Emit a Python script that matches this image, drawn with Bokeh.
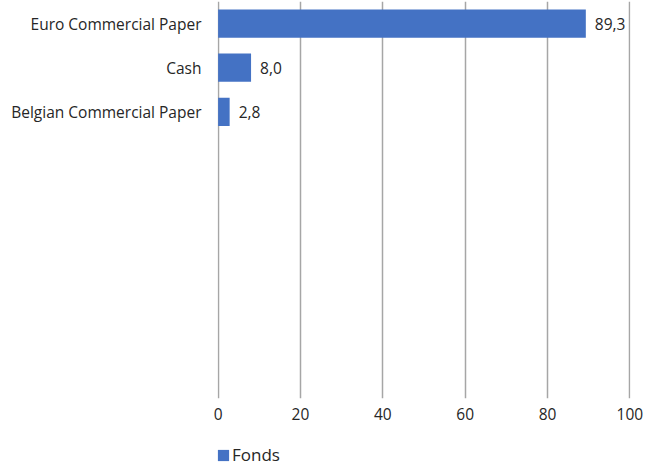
from bokeh.plotting import figure
from bokeh.layouts import column
from bokeh.models import ColumnDataSource, FactorRange, Legend, LegendItem, FixedTicker
from bokeh.core.properties import value
from bokeh.embed import file_html
from bokeh.resources import INLINE

categories = ["Euro Commercial Paper", "Cash", "Belgian Commercial Paper"]
values = [89.3, 8.0, 2.8]
value_labels = ["89,3", "8,0", "2,8"]
series_name = "Fonds"
x_ticks = [0, 20, 40, 60, 80, 100]
n_slots = 9

blanks = [" " * (i + 1) for i in range(n_slots - len(categories))]
factors = list(reversed(categories + blanks))

FONT = "Open Sans"
TEXT = "#262626"
BLUE = "#4472C4"
GRID = "#a6a6a6"

p = figure(width=646, height=430, output_backend="svg", toolbar_location=None,
           y_range=FactorRange(factors=factors), x_range=(-0.15, 100.15),
           min_border_left=217, min_border_right=16, min_border_top=1, min_border_bottom=32,
           outline_line_color=None)

src = ColumnDataSource(dict(cat=categories, val=values, lab=value_labels))
r = p.hbar(y="cat", right="val", left=0, height=0.64, source=src, color=BLUE, line_color=None)
p.text(x="val", y="cat", text="lab", source=src, x_offset=9, text_baseline="middle",
       text_align="left", text_font=value(FONT), text_font_size="15.5px", text_color=TEXT)

p.xaxis.ticker = FixedTicker(ticks=x_ticks)
p.xaxis.axis_line_color = None
p.xaxis.major_tick_line_color = None
p.xaxis.minor_tick_line_color = None
p.xaxis.major_tick_out = 0
p.xaxis.major_label_standoff = 9
p.xaxis.major_label_text_font = FONT
p.xaxis.major_label_text_font_size = "15.5px"
p.xaxis.major_label_text_color = TEXT

p.yaxis.axis_line_color = None
p.yaxis.major_tick_line_color = None
p.yaxis.major_tick_out = 0
p.yaxis.major_label_standoff = 16
p.yaxis.major_label_text_font = FONT
p.yaxis.major_label_text_font_size = "15.5px"
p.yaxis.major_label_text_color = TEXT

p.ygrid.grid_line_color = None
p.xgrid.grid_line_color = GRID
p.xgrid.grid_line_width = 1.5

# legend strip below the chart (its frame is aligned with the chart's frame)
lp = figure(width=646, height=36, output_backend="svg", toolbar_location=None,
            x_range=(0, 1), y_range=(0, 1), min_border=0, outline_line_color=None)
lp.axis.visible = False
lp.grid.visible = False
# proxy renderer for the legend swatch, kept outside the visible range
lr = lp.hbar(y=[-5], right=[1], left=0, height=0.5, color=BLUE, line_color=None)
legend = Legend(items=[LegendItem(label=series_name, renderers=[lr])], location=(-1, 0),
                orientation="horizontal", glyph_width=14, glyph_height=14, padding=0,
                margin=0, label_standoff=2, label_text_font=FONT, label_text_font_size="17px",
                label_text_color=TEXT, border_line_color=None, background_fill_alpha=0)
lp.add_layout(legend)

layout = column(p, lp, spacing=0)
open("out.html", "w").write(file_html(layout, INLINE))
